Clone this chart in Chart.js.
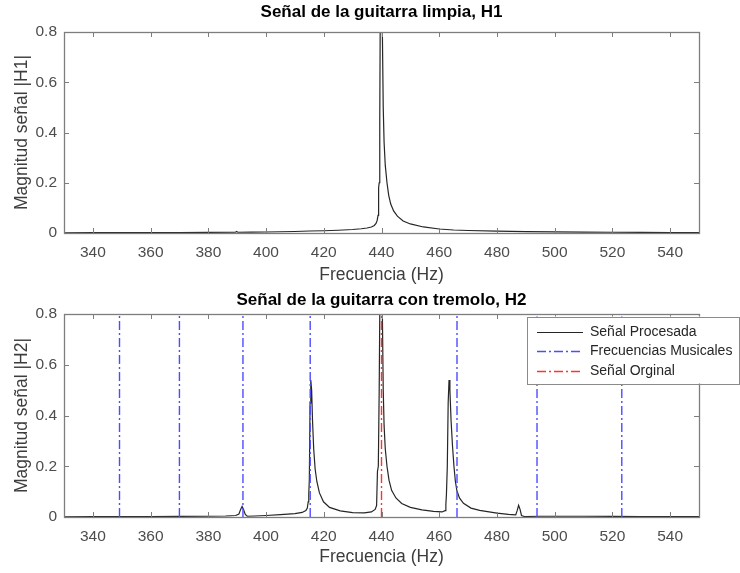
<!DOCTYPE html>
<html><head><meta charset="utf-8">
<script src="https://cdn.jsdelivr.net/npm/chart.js@4.4.1/dist/chart.umd.min.js"></script>
<style>
html,body{margin:0;padding:0;background:#fff;}
#wrap{position:relative;width:740px;height:573px;}
.box{position:absolute;left:0;width:740px;}
</style></head><body>
<div id="wrap">
<div class="box" style="top:0;height:286px"><canvas id="c1"></canvas></div>
<div class="box" style="top:286px;height:287px"><canvas id="c2"></canvas></div>
</div>
<script>
// ---- Data ----
const freqH1 = [330,340,350,360,370,380,389.4,389.8,390.2,395,400,405,410,415,420,425,430,433,435,436.5,437.5,438.1,438.5,438.8,439.0,439.2,439.4,439.6,440.0,440.3,440.6,440.9,441.3,441.9,442.5,443.2,444.2,445.5,447.5,450,454.5,460,465,470,480,490,500,510,520,530,540,550];
const magH1  = [0.001,0.0012,0.0015,0.0018,0.002,0.0025,0.003,0.006,0.003,0.0035,0.004,0.005,0.006,0.008,0.009,0.011,0.014,0.017,0.02,0.024,0.03,0.038,0.05,0.07,0.18,0.2,0.45,0.95,0.98,0.8,0.5,0.36,0.27,0.2,0.15,0.115,0.088,0.067,0.048,0.036,0.024,0.016,0.012,0.01,0.0075,0.0055,0.0045,0.0035,0.003,0.0025,0.002,0.0018];

const freqH2 = [330,340,350,360,370,380,386,389.5,390.6,391.2,391.7,392.2,392.8,393.5,396,400,405,410,412.5,413.8,414.3,414.6,414.8,415.0,415.25,415.5,415.8,416.1,416.5,417.0,417.6,418.5,419.9,422,425.7,430,434,436.5,437.8,438.3,438.6,438.9,439.2,439.5,440.0,440.3,440.6,440.9,441.3,441.9,442.6,443.5,445,447,450,454,458,461,462,462.3,462.5,462.8,463.1,463.4,463.7,464.1,464.6,465.1,465.6,466.1,467,468.4,471,474,480,484,486.5,487.0,487.5,488.0,488.5,489.5,495,500,510,520,530,540,550];
const magH2  = [0.001,0.0015,0.002,0.002,0.0025,0.003,0.004,0.006,0.012,0.03,0.042,0.03,0.01,0.003,0.004,0.006,0.009,0.013,0.018,0.025,0.035,0.06,0.09,0.15,0.45,0.54,0.5,0.38,0.27,0.19,0.14,0.095,0.06,0.038,0.024,0.017,0.016,0.02,0.03,0.045,0.18,0.2,0.5,0.95,0.98,0.8,0.5,0.36,0.27,0.2,0.145,0.105,0.075,0.053,0.038,0.028,0.022,0.02,0.025,0.05,0.09,0.2,0.45,0.54,0.5,0.38,0.28,0.2,0.14,0.105,0.075,0.054,0.035,0.026,0.015,0.01,0.008,0.025,0.046,0.03,0.006,0.002,0.003,0.003,0.003,0.0025,0.002,0.002,0.0015];

const musicalFreqs = [349.23,369.99,392.00,415.30,466.16,493.88,523.25];
const originalFreq = [440];

const xTickValues = [340,360,380,400,420,440,460,480,500,520,540];
const yTickValues = [0,0.2,0.4,0.6,0.8];
const xRange = [330,550];

// ---- Helpers ----
const FONT = '"Liberation Sans", Arial, Helvetica, sans-serif';
function pairs(xs, ys){ return xs.map((x,i)=>({x:x, y:ys[i]})); }
function vlines(fs){
  const out=[]; const top=yTickValues[yTickValues.length-1];
  fs.forEach(f=>{ out.push({x:f,y:0}); out.push({x:f,y:top}); out.push({x:f,y:null}); });
  return out;
}

const matlabAxes = {
  id:'matlabAxes',
  afterDatasetsDraw(chart){
    const {ctx, chartArea:a, scales} = chart;
    ctx.save();
    ctx.strokeStyle = '#7d7d7d'; ctx.lineWidth = 1;
    ctx.setLineDash([]);
    const L = 5;
    ctx.beginPath();
    scales.x.ticks.forEach(t=>{
      const px = Math.round(scales.x.getPixelForValue(t.value))+0.5;
      ctx.moveTo(px,a.bottom); ctx.lineTo(px,a.bottom-L);
      ctx.moveTo(px,a.top); ctx.lineTo(px,a.top+L);
    });
    scales.y.ticks.forEach(t=>{
      const py = Math.round(scales.y.getPixelForValue(t.value))+0.5;
      ctx.moveTo(a.left,py); ctx.lineTo(a.left+L,py);
      ctx.moveTo(a.right,py); ctx.lineTo(a.right-L,py);
    });
    ctx.stroke();
    ctx.lineWidth = 1.3;
    ctx.strokeRect(Math.round(a.left)+0.5, Math.round(a.top)+0.5, Math.round(a.right-a.left), Math.round(a.bottom-a.top));
    ctx.restore();
  }
};

const boxLegend = {
  id:'boxLegend',
  afterDraw(chart){
    const {ctx, chartArea:a} = chart;
    const left = a.right - 172, top = a.top + 2.5, w = 212, h = 67;
    ctx.save();
    ctx.fillStyle = '#ffffff'; ctx.fillRect(left, top, w, h);
    ctx.strokeStyle = '#8a8a8a'; ctx.lineWidth = 1; ctx.setLineDash([]);
    ctx.strokeRect(Math.round(left)+0.5, Math.round(top)+0.5, w, h);
    ctx.font = '14px ' + FONT;
    ctx.textBaseline = 'middle';
    chart.data.datasets.forEach((ds,i)=>{
      const y = Math.round(top + 15 + i*19.7)+0.5;
      ctx.strokeStyle = ds.borderColor; ctx.lineWidth = ds.borderWidth;
      ctx.setLineDash(ds.borderDash || []);
      ctx.beginPath(); ctx.moveTo(left+10, y); ctx.lineTo(left+56, y); ctx.stroke();
      ctx.setLineDash([]);
      ctx.fillStyle = '#262626'; ctx.fillText(ds.label, left+63, y);
    });
    ctx.restore();
  }
};

function makeChart(id, titleText, yTitle, datasets, cfg, extraPlugins){
  return new Chart(document.getElementById(id), {
    type:'line',
    data:{datasets:datasets},
    options:{
      responsive:true, maintainAspectRatio:false, animation:false,
      parsing:true, normalized:true,
      layout:{padding:{left:0,right:41,top:0,bottom:0}},
      elements:{point:{radius:0,hoverRadius:0}, line:{tension:0}},
      plugins:{
        legend:{display:false},
        tooltip:{enabled:false},
        title:{display:true, text:titleText, fullSize:false, color:'#000',
          font:{family:FONT, size:17, weight:'bold', lineHeight:1.2},
          padding:{top:cfg.titleTop, bottom:cfg.titleBottom}}
      },
      scales:{
        x:{type:'linear', min:xRange[0], max:xRange[1],
          afterBuildTicks:(s)=>{ s.ticks = xTickValues.map(v=>({value:v})); },
          afterFit:(s)=>{ s.height = cfg.xHeight; },
          grid:{display:false, drawTicks:false}, border:{display:false},
          ticks:{color:'#4d4d4d', padding:cfg.xTickPad, maxRotation:0, autoSkip:false, font:{family:FONT,size:15.5}},
          title:{display:true, text:'Frecuencia (Hz)', color:'#3d3d3d', font:{family:FONT,size:17.5,lineHeight:1.2}, padding:{top:0,bottom:cfg.xTitleBottom}}
        },
        y:{type:'linear', min:yTickValues[0], max:yTickValues[yTickValues.length-1],
          afterBuildTicks:(s)=>{ s.ticks = yTickValues.map(v=>({value:v})); },
          afterFit:(s)=>{ s.width = 64; },
          grid:{display:false, drawTicks:false}, border:{display:false},
          ticks:{color:'#4d4d4d', padding:7, font:{family:FONT,size:15.5}},
          title:{display:true, text:yTitle, color:'#3d3d3d', font:{family:FONT,size:17.5,lineHeight:1.2}, padding:{top:11.5,bottom:0}}
        }
      }
    },
    plugins:[matlabAxes].concat(extraPlugins||[])
  });
}

makeChart('c1','Señal de la guitarra limpia, H1','Magnitud señal |H1|',[
  {label:'Señal Procesada', data:pairs(freqH1,magH1), borderColor:'#262626', borderWidth:1.2, fill:false}
], {titleTop:1.8, titleBottom:9.8, xHeight:53, xTickPad:10, xTitleBottom:0});

makeChart('c2','Señal de la guitarra con tremolo, H2','Magnitud señal |H2|',[
  {label:'Señal Procesada', data:pairs(freqH2,magH2), borderColor:'#262626', borderWidth:1.2, fill:false, order:3},
  {label:'Frecuencias Musicales', data:vlines(musicalFreqs), borderColor:'#4d4dff', borderWidth:1.4, borderDash:[9,3,2,3], spanGaps:false, fill:false, order:2},
  {label:'Señal Orginal', data:vlines(originalFreq), borderColor:'#ff3333', borderWidth:1.4, borderDash:[9,3,2,3], spanGaps:false, fill:false, order:1}
], {titleTop:3.8, titleBottom:3.8, xHeight:56, xTickPad:10, xTitleBottom:5}, [boxLegend]);
</script>
</body></html>
